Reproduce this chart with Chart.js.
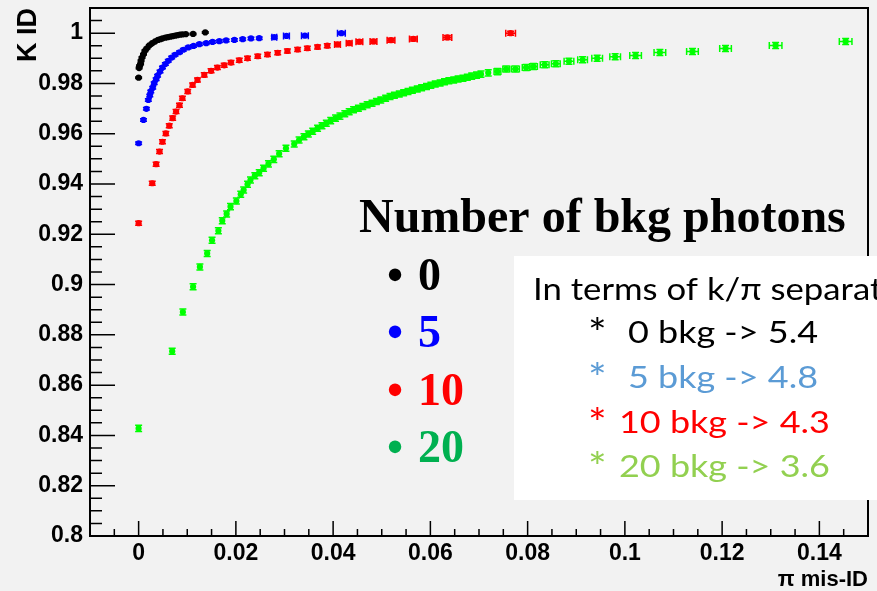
<!DOCTYPE html>
<html>
<head>
<meta charset="utf-8">
<script src="https://cdn.jsdelivr.net/npm/chart.js@4.4.1/dist/chart.umd.min.js"></script>
<style>
  html, body { margin: 0; padding: 0; background: #f2f2f2; }
  #chart { display: block; }
</style>
</head>
<body>
<canvas id="chart" width="877" height="591"></canvas>
<script>
'use strict';

// K ID against pi mis-ID, one curve per number of background photons.
// Each point: [pi mis-ID, K ID, x error (only where it shows)]
var kId0 = [
    [0, 0.9823], [0.0001, 0.9861], [0.0002, 0.987], [0.0004, 0.9877], [0.0005, 0.989],
    [0.0007, 0.9903], [0.001, 0.9916], [0.0013, 0.993], [0.0017, 0.994], [0.0022, 0.9951],
    [0.0028, 0.996], [0.0034, 0.9967], [0.004, 0.9973], [0.0045, 0.9976], [0.0049, 0.9979],
    [0.0055, 0.9982], [0.006, 0.9984], [0.0065, 0.9986], [0.007, 0.9988], [0.0075, 0.999],
    [0.008, 0.9992], [0.0085, 0.9994], [0.009, 0.9995], [0.0097, 0.9996], [0.0112, 0.9997],
    [0.0137, 1.0003]
];

var kId5 = [
    [0, 0.9562], [0.001, 0.9655], [0.0016, 0.9699], [0.002, 0.9734], [0.0023, 0.9752],
    [0.0025, 0.9768], [0.0029, 0.9783], [0.0032, 0.9801], [0.0036, 0.9817], [0.0039, 0.9831],
    [0.0044, 0.9847], [0.0049, 0.9863], [0.0055, 0.9877], [0.0061, 0.989], [0.0068, 0.9903],
    [0.0075, 0.9914], [0.0084, 0.9924], [0.0092, 0.9934], [0.0102, 0.9943], [0.0113, 0.9949],
    [0.0125, 0.9956], [0.0139, 0.996], [0.0152, 0.9965], [0.0166, 0.9968], [0.018, 0.9971],
    [0.0197, 0.9973], [0.0214, 0.9976], [0.0231, 0.9979], [0.0248, 0.998], [0.0279, 0.9984, 0.0005],
    [0.0304, 0.9989, 0.0006], [0.0342, 0.999, 0.0007], [0.0417, 1.0, 0.0008]
];

var kId10 = [
    [0, 0.9244], [0.0028, 0.9403], [0.0036, 0.9479], [0.0043, 0.9529], [0.0049, 0.9568],
    [0.0056, 0.9601], [0.0063, 0.9632], [0.007, 0.9662], [0.0077, 0.9688], [0.0084, 0.9713],
    [0.009, 0.9741], [0.0101, 0.9768], [0.0111, 0.9794], [0.0121, 0.9814], [0.0135, 0.9834],
    [0.0149, 0.985], [0.0162, 0.9863], [0.0176, 0.9872], [0.019, 0.9883], [0.0207, 0.9892],
    [0.0224, 0.99], [0.0245, 0.9908], [0.0265, 0.9915], [0.0286, 0.9922], [0.0306, 0.9929],
    [0.0327, 0.9935], [0.0347, 0.994], [0.0368, 0.9945], [0.0388, 0.995], [0.0409, 0.9955, 0.0006],
    [0.0433, 0.996, 0.0006], [0.0454, 0.9966, 0.0007], [0.0483, 0.9967, 0.0007], [0.0519, 0.9972, 0.0008],
    [0.0565, 0.9977, 0.0008], [0.0635, 0.9983, 0.0009], [0.0765, 1.0, 0.001]
];

var kId20 = [
    [0, 0.8428], [0.0069, 0.8735], [0.0091, 0.8891], [0.0112, 0.8991], [0.0126, 0.907],
    [0.0141, 0.9124], [0.0151, 0.9176], [0.0164, 0.9214], [0.0172, 0.9254], [0.0181, 0.9281],
    [0.0189, 0.931], [0.0201, 0.9332], [0.021, 0.9359], [0.0216, 0.9376], [0.0224, 0.9399],
    [0.023, 0.9416], [0.0239, 0.9433], [0.0248, 0.9445], [0.0257, 0.9463], [0.0267, 0.948],
    [0.0278, 0.9498], [0.0289, 0.952], [0.0303, 0.9542], [0.032, 0.9559], [0.033, 0.9575],
    [0.034, 0.9588], [0.0349, 0.9599], [0.0358, 0.961], [0.0368, 0.9622], [0.0377, 0.9632],
    [0.0386, 0.9642], [0.0395, 0.9652], [0.0405, 0.9662], [0.0414, 0.967], [0.0424, 0.9679],
    [0.0433, 0.9687], [0.0442, 0.9695], [0.0452, 0.9701], [0.0461, 0.9708], [0.047, 0.9715],
    [0.048, 0.9721], [0.0489, 0.9728], [0.0498, 0.9734], [0.0508, 0.9741], [0.0517, 0.9748],
    [0.0526, 0.9753], [0.0536, 0.9758], [0.0545, 0.9763], [0.0554, 0.9768], [0.0563, 0.9773],
    [0.0573, 0.9778], [0.0582, 0.9783], [0.0592, 0.9788], [0.0601, 0.9793], [0.061, 0.9798],
    [0.062, 0.9802], [0.0629, 0.9807], [0.0638, 0.9811], [0.0648, 0.9814], [0.0657, 0.9818],
    [0.0667, 0.9821], [0.0676, 0.9825], [0.0685, 0.9829], [0.0695, 0.9833], [0.0704, 0.9837],
    [0.0719, 0.9842], [0.0738, 0.9847, 0.0007], [0.0756, 0.9857, 0.0007], [0.0775, 0.9857, 0.0008],
    [0.0797, 0.9863, 0.0008], [0.0812, 0.9867, 0.0008], [0.0835, 0.9874, 0.0009], [0.0858, 0.9878, 0.0009],
    [0.0885, 0.9888, 0.001], [0.0913, 0.9894, 0.001], [0.0943, 0.99, 0.0011], [0.098, 0.9906, 0.0011],
    [0.1022, 0.9911, 0.0012], [0.1072, 0.9923, 0.0012], [0.1139, 0.9927, 0.0012], [0.1207, 0.9939, 0.0012],
    [0.131, 0.9951, 0.0013], [0.1454, 0.9967, 0.0013]
];

// K ID error per curve
var kIdErrors = [0.0003, 0.0005, 0.0008, 0.0012];

var bkgPhotons    = [0, 5, 10, 20];
var kPiSeparation = [5.4, 4.8, 4.3, 3.6];

var xTickValues = [0, 0.02, 0.04, 0.06, 0.08, 0.1, 0.12, 0.14];
var yTickValues = [0.8, 0.82, 0.84, 0.86, 0.88, 0.9, 0.92, 0.94, 0.96, 0.98, 1];

var curveColours  = ['#000000', '#0000ff', '#ff0000', '#00ff00'];
var legendColours = ['#000000', '#0000ff', '#ff0000', '#00b050'];
var sepColours    = ['#000000', '#5b9bd5', '#ff0000', '#92d050'];

var curves = [kId0, kId5, kId10, kId20];

var datasets = curves.map(function (curve, i) {
    return {
        label: bkgPhotons[i] + ' bkg',
        data: curve.map(function (p) {
            return { x: p[0], y: p[1], ex: p[2] || 0, ey: kIdErrors[i] };
        }),
        backgroundColor: curveColours[i],
        borderWidth: 0,
        pointRadius: 3.1,
        pointHoverRadius: 3.1,
        showLine: false
    };
});

var axisFamily = '"Liberation Sans", Arial, sans-serif';
var boxFont = '31px Lato, "Open Sans", sans-serif';

var paperBackground = {
    id: 'paperBackground',
    beforeDraw: function (chart) {
        var ctx = chart.ctx;
        ctx.save();
        ctx.fillStyle = '#f2f2f2';
        ctx.fillRect(0, 0, chart.width, chart.height);
        ctx.restore();
    }
};

// ROOT style error bars with end caps
var errorBars = {
    id: 'errorBars',
    beforeDatasetsDraw: function (chart) {
        var ctx = chart.ctx, a = chart.chartArea;
        var xs = chart.scales.x, ys = chart.scales.y;
        var cap = 3.5;
        ctx.save();
        ctx.beginPath();
        ctx.rect(a.left, a.top, a.right - a.left, a.bottom - a.top);
        ctx.clip();
        ctx.lineWidth = 1.5;
        chart.data.datasets.forEach(function (ds, i) {
            var meta = chart.getDatasetMeta(i);
            ctx.strokeStyle = ds.backgroundColor;
            ctx.beginPath();
            meta.data.forEach(function (pt, j) {
                var raw = ds.data[j];
                if (raw.ex) {
                    var x0 = xs.getPixelForValue(raw.x - raw.ex);
                    var x1 = xs.getPixelForValue(raw.x + raw.ex);
                    ctx.moveTo(x0, pt.y); ctx.lineTo(x1, pt.y);
                    ctx.moveTo(x0, pt.y - cap); ctx.lineTo(x0, pt.y + cap);
                    ctx.moveTo(x1, pt.y - cap); ctx.lineTo(x1, pt.y + cap);
                }
                if (raw.ey) {
                    var y0 = ys.getPixelForValue(raw.y - raw.ey);
                    var y1 = ys.getPixelForValue(raw.y + raw.ey);
                    ctx.moveTo(pt.x, y0); ctx.lineTo(pt.x, y1);
                    ctx.moveTo(pt.x - cap, y0); ctx.lineTo(pt.x + cap, y0);
                    ctx.moveTo(pt.x - cap, y1); ctx.lineTo(pt.x + cap, y1);
                }
            });
            ctx.stroke();
        });
        ctx.restore();
    }
};

// frame plus inward major/minor ticks on the left and bottom axes
var frameTicks = {
    id: 'frameTicks',
    afterDraw: function (chart) {
        var ctx = chart.ctx, a = chart.chartArea;
        var xs = chart.scales.x, ys = chart.scales.y;
        var k, p, len;
        ctx.save();
        ctx.strokeStyle = '#000';
        ctx.lineWidth = 1.5;
        ctx.beginPath();
        for (k = -1; k < 30; k++) {
            p = xs.getPixelForValue(k * 0.005);
            len = k % 4 === 0 ? 15 : 7;
            ctx.moveTo(p, a.bottom);
            ctx.lineTo(p, a.bottom - len);
        }
        for (k = 161; k < 202; k++) {
            p = ys.getPixelForValue(k * 0.005);
            len = k % 4 === 0 ? 25 : 12;
            ctx.moveTo(a.left, p);
            ctx.lineTo(a.left + len, p);
        }
        ctx.stroke();
        ctx.lineWidth = 2;
        ctx.strokeRect(a.left, a.top, a.right - a.left, a.bottom - a.top);
        ctx.restore();
    }
};

// wide text in the separation box
function wideText(ctx, text, x, y, stretch) {
    ctx.save();
    ctx.translate(x, y);
    ctx.scale(stretch, 1);
    ctx.fillText(text, 0, 0);
    ctx.restore();
}

// photon-count key and the white k/pi separation box
var notes = {
    id: 'notes',
    afterDraw: function (chart) {
        var ctx = chart.ctx;
        var rowBase = [290, 347, 405, 462];
        var sepBase = [343, 388, 433, 477];
        ctx.save();
        ctx.textBaseline = 'alphabetic';

        ctx.fillStyle = '#000';
        ctx.font = 'bold 48px "Liberation Serif", "Times New Roman", serif';
        ctx.textAlign = 'left';
        ctx.fillText('Number of bkg photons', 359, 232);

        bkgPhotons.forEach(function (n, i) {
            ctx.fillStyle = legendColours[i];
            ctx.font = 'bold 46px "Liberation Serif", "Times New Roman", serif';
            ctx.textAlign = 'center';
            ctx.fillText('\u2022', 395, rowBase[i]);
            ctx.textAlign = 'left';
            ctx.fillText(String(n), 418, rowBase[i]);
        });

        ctx.fillStyle = '#ffffff';
        ctx.fillRect(514, 256, chart.width - 514, 244);

        ctx.textAlign = 'left';
        ctx.fillStyle = '#000';
        ctx.font = boxFont;
        wideText(ctx, 'In terms of k/\u03c0 separation', 533, 300, 1.12);

        bkgPhotons.forEach(function (n, i) {
            ctx.fillStyle = sepColours[i];
            ctx.font = '40px Lato, "Open Sans", sans-serif';
            wideText(ctx, '*', 588, sepBase[i] + 5, 1.1);
            ctx.font = boxFont;
            wideText(ctx, n + ' bkg -> ' + kPiSeparation[i], n >= 10 ? 619 : 628, sepBase[i], 1.16);
        });
        ctx.restore();
    }
};

var chart = new Chart(document.getElementById('chart'), {
    type: 'scatter',
    data: { datasets: datasets },
    options: {
        responsive: false,
        animation: false,
        devicePixelRatio: 1,
        events: [],
        layout: { padding: { top: 8, right: 9, left: 0, bottom: 0 } },
        plugins: {
            legend: { display: false },
            tooltip: { enabled: false }
        },
        scales: {
            x: {
                type: 'linear',
                min: -0.01,
                max: 0.15,
                grid: { display: false, drawTicks: false },
                border: { display: false },
                afterBuildTicks: function (s) {
                    s.ticks = xTickValues.map(function (v) { return { value: v }; });
                },
                afterFit: function (s) {
                    s.height = 55;
                    s.paddingLeft = 0;
                    s.paddingRight = 0;
                },
                ticks: {
                    autoSkip: false,
                    maxRotation: 0,
                    padding: 4,
                    color: '#000',
                    font: { family: axisFamily, weight: 'bold', size: 23 },
                    callback: function (v) { return String(+v.toFixed(3)); }
                },
                title: {
                    display: true,
                    text: '\u03c0 mis-ID',
                    align: 'end',
                    color: '#000',
                    font: { family: axisFamily, weight: 'bold', size: 22 },
                    padding: { top: 0, bottom: -2 }
                }
            },
            y: {
                type: 'linear',
                min: 0.8,
                max: 1.01,
                grid: { display: false, drawTicks: false },
                border: { display: false },
                afterBuildTicks: function (s) {
                    s.ticks = yTickValues.map(function (v) { return { value: v }; });
                },
                afterFit: function (s) {
                    s.width = 90;
                    s.paddingTop = 0;
                    s.paddingBottom = 0;
                },
                ticks: {
                    autoSkip: false,
                    padding: 7,
                    color: '#000',
                    font: { family: axisFamily, weight: 'bold', size: 23 },
                    callback: function (v) { return String(+v.toFixed(3)); }
                },
                title: {
                    display: true,
                    text: 'K ID',
                    align: 'end',
                    color: '#000',
                    font: { family: axisFamily, weight: 'bold', size: 27 },
                    padding: { top: 12, bottom: 0 }
                }
            }
        }
    },
    plugins: [paperBackground, errorBars, frameTicks, notes]
});
</script>
</body>
</html>
